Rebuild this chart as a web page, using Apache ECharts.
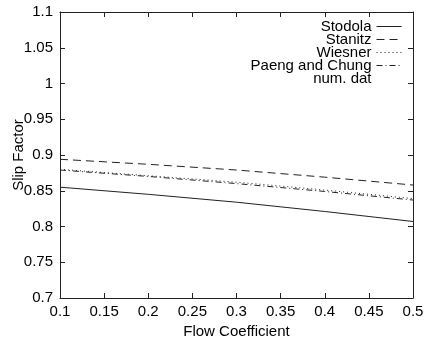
<!DOCTYPE html>
<html>
<head>
<meta charset="utf-8">
<script src="https://cdn.jsdelivr.net/npm/echarts@6/dist/echarts.min.js"></script>
<style>html,body{margin:0;padding:0;background:#fff;}#c{width:434px;height:345px;}</style>
</head>
<body>
<div id="c"></div>
<script>
var flow = [0.1, 0.2, 0.3, 0.4, 0.5];
var stodola = [0.855, 0.845, 0.834, 0.821, 0.807];
var stanitz = [0.894, 0.887, 0.879, 0.869, 0.858];
var wiesner = [0.880, 0.871, 0.862, 0.851, 0.839];
var paengChung = [0.879, 0.870, 0.860, 0.849, 0.837];
var numDat = [];
var seriesNames = ['Stodola', 'Stanitz', 'Wiesner', 'Paeng and Chung', 'num. dat'];

function pairs(ys) { return ys.map(function (v, i) { return [flow[i], v]; }); }

var font = '"Liberation Sans", Arial, sans-serif';
var ink = '#000';
var chart = echarts.init(document.getElementById('c'), null, {renderer: 'canvas'});

function lineSeries(name, data, type, opacity) {
  return {
    name: name, type: 'line', data: data, symbol: 'none', smooth: false,
    lineStyle: {color: '#222', width: 1, type: type, opacity: opacity},
    itemStyle: {color: '#222'}, silent: true, animation: false
  };
}

chart.setOption({
  animation: false,
  backgroundColor: '#fff',
  grid: {left: 60, right: 21, top: 12, bottom: 47},
  legend: {
    orient: 'vertical', align: 'right', right: 27, top: 14,
    itemWidth: 25, itemHeight: 12, itemGap: -2,
    itemStyle: {opacity: 0},
    lineStyle: {width: 1},
    textStyle: {fontFamily: font, fontSize: 15, color: ink, lineHeight: 14},
    data: seriesNames
  },
  xAxis: [{
    type: 'value', min: 0.1, max: 0.5, interval: 0.05,
    name: 'Flow Coefficient', nameLocation: 'middle', nameGap: 25,
    nameTextStyle: {fontFamily: font, fontSize: 15, color: ink},
    axisLine: {lineStyle: {color: '#222', width: 1}},
    axisTick: {inside: true, length: 5, lineStyle: {color: '#222'}},
    axisLabel: {fontFamily: font, fontSize: 15, color: ink, margin: 6},
    splitLine: {show: false}
  }, {
    type: 'value', position: 'top', min: 0.1, max: 0.5, interval: 0.05,
    axisLine: {show: true, onZero: false, lineStyle: {color: '#222', width: 1}},
    axisTick: {inside: true, length: 5, lineStyle: {color: '#222'}},
    axisLabel: {show: false}, splitLine: {show: false}
  }],
  yAxis: [{
    type: 'value', min: 0.7, max: 1.1, interval: 0.05,
    name: 'Slip Factor', nameLocation: 'middle', nameGap: 34, nameRotate: 90,
    nameMoveOverlap: false,
    nameTextStyle: {fontFamily: font, fontSize: 15, color: ink},
    axisLine: {show: true, lineStyle: {color: '#222', width: 1}},
    axisTick: {show: true, inside: true, length: 5, lineStyle: {color: '#222'}},
    axisLabel: {fontFamily: font, fontSize: 15, color: ink, margin: 7},
    splitLine: {show: false}
  }, {
    type: 'value', position: 'right', min: 0.7, max: 1.1, interval: 0.05,
    axisLine: {show: true, onZero: false, lineStyle: {color: '#222', width: 1}},
    axisTick: {show: true, inside: true, length: 5, lineStyle: {color: '#222'}},
    axisLabel: {show: false}, splitLine: {show: false}
  }],
  series: [
    lineSeries(seriesNames[0], pairs(stodola), 'solid', 1),
    lineSeries(seriesNames[1], pairs(stanitz), [8, 5], 1),
    lineSeries(seriesNames[2], pairs(wiesner), [1, 3], 1),
    lineSeries(seriesNames[3], pairs(paengChung), [6, 3, 1, 3], 1),
    lineSeries(seriesNames[4], numDat, 'solid', 0)
  ]
});
</script>
</body>
</html>
